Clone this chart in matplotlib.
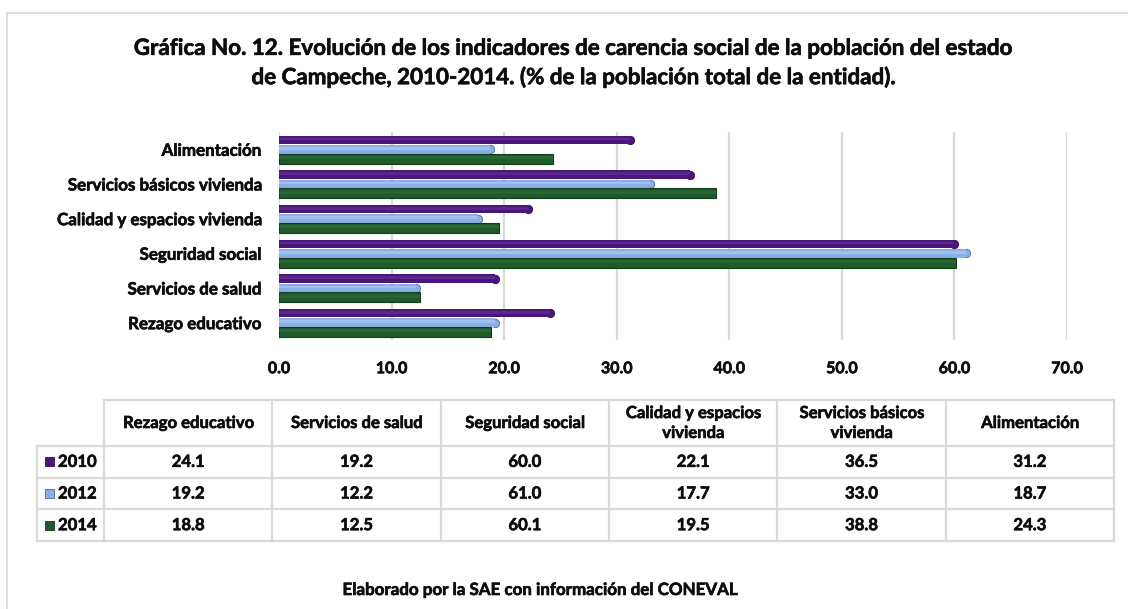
import matplotlib
matplotlib.use("Agg")
import matplotlib.pyplot as plt
import matplotlib.patheffects as pe
import numpy as np
from matplotlib.patches import Rectangle
from matplotlib.lines import Line2D

# ---------------- data ----------------
categories = ["Rezago educativo", "Servicios de salud", "Seguridad social",
              "Calidad y espacios vivienda", "Servicios básicos vivienda", "Alimentación"]
table_headers = ["Rezago educativo", "Servicios de salud", "Seguridad social",
                 "Calidad y espacios\nvivienda", "Servicios básicos\nvivienda", "Alimentación"]
years = ["2010", "2012", "2014"]
v2010 = [24.1, 19.2, 60.0, 22.1, 36.5, 31.2]
v2012 = [19.2, 12.2, 61.0, 17.7, 33.0, 18.7]
v2014 = [18.8, 12.5, 60.1, 19.5, 38.8, 24.3]
xticks = [0, 10, 20, 30, 40, 50, 60, 70]

title = ("Gráfica No. 12. Evolución de los indicadores de carencia social de la población del estado\n"
         "de Campeche, 2010-2014. (% de la población total de la entidad).")
footer = "Elaborado por la SAE con información del CONEVAL"

# ---------------- style ----------------
plt.rcParams['font.family'] = ['Lato', 'DejaVu Sans']
plt.rcParams['font.weight'] = 'bold'
W, H = 1128, 609
fig = plt.figure(figsize=(W / 100, H / 100), dpi=100)

def fx(x):
    return x / W

def fy(y):
    return 1 - y / H

txt_c = "#0d0d0d"
thick = [pe.withStroke(linewidth=0.45, foreground=txt_c)]
colors = ["#4a167a", "#8aaee6", "#1f5a2b"]
edges = ["#33095a", "#4a6aa3", "#123d1b"]
highlights = ["#6a35a0", "#b9d0f4", "#2f7440"]

# border of the chart area
fig.add_artist(Rectangle((fx(7), fy(H + 5)), fx(W + 10) - fx(7), fy(13) - fy(H + 5),
                         transform=fig.transFigure, fill=False, ec="#d9d9d9", lw=1.2))

fig.text(fx(574), fy(63), title, ha="center", va="center", fontsize=16.1,
         fontweight="bold", linespacing=1.4, color=txt_c, path_effects=thick)

# ---------------- bar chart ----------------
ax = fig.add_axes([fx(279), fy(340), fx(1067) - fx(279), fy(132) - fy(340)])
y = np.arange(len(categories))
offsets = [0.27, 0.0, -0.27]
series = [v2010, v2012, v2014]
heights = [0.24, 0.25, 0.29]
rounded = [True, True, False]
for vals, off, c, e, hl, hh, rnd in zip(series, offsets, colors, edges, highlights,
                                         heights, rounded):
    if rnd:
        ax.plot(vals, y + off, "o", ms=6.0, color=c, mec=e, mew=0.6, zorder=2)
        ax.barh(y + off, vals, height=hh, color=c, linewidth=0, zorder=3)
    else:
        ax.barh(y + off, vals, height=hh, color=c, edgecolor=e, linewidth=0.8, zorder=3)
    ax.barh(y + off + hh * 0.12, vals, height=hh * 0.3, color=hl, linewidth=0,
            alpha=0.55, zorder=4)

ax.set_xlim(0, 70)
ax.set_ylim(-0.5, len(categories) - 0.5)
ax.set_xticks(xticks)
ax.set_xticklabels([f"{t:.1f}" for t in xticks], fontsize=11.5, fontweight="bold")
ax.set_yticks(y)
ax.set_yticklabels(categories, fontsize=12.2, fontweight="bold")
ax.tick_params(axis="x", length=0, pad=16, colors=txt_c)
ax.tick_params(axis="y", length=0, pad=13, colors=txt_c)
for t in ax.get_xticklabels() + ax.get_yticklabels():
    t.set_path_effects(thick)
ax.grid(axis="x", color="#d9d9d9", lw=1.6, zorder=0)
for s in ax.spines.values():
    s.set_visible(False)

# ---------------- data table ----------------
col_left = 104
col_right = 1114
ncol = len(categories)
colw = (col_right - col_left) / ncol
row_lab_left = 37
header_top, header_bot = 400, 446
row_h = (541 - header_bot) / 3
line_c = "#d9d9d9"

def hline(yp, x0, x1):
    fig.add_artist(Line2D([fx(x0), fx(x1)], [fy(yp), fy(yp)], transform=fig.transFigure,
                          color=line_c, lw=1.6))

def vline(xp, y0, y1):
    fig.add_artist(Line2D([fx(xp), fx(xp)], [fy(y0), fy(y1)], transform=fig.transFigure,
                          color=line_c, lw=1.6))

hline(header_top, col_left, col_right)
for i in range(4):
    hline(header_bot + i * row_h, row_lab_left, col_right)
vline(row_lab_left, header_bot, header_bot + 3 * row_h)
for j in range(ncol + 1):
    vline(col_left + j * colw, header_top, header_bot + 3 * row_h)

for j, head in enumerate(table_headers):
    fig.text(fx(col_left + (j + 0.5) * colw), fy((header_top + header_bot) / 2), head,
             ha="center", va="center", fontsize=12, fontweight="bold",
             linespacing=1.3, color=txt_c, path_effects=thick)

for i, (yr, vals) in enumerate(zip(years, series)):
    yc = header_bot + (i + 0.5) * row_h
    fig.add_artist(Rectangle((fx(45), fy(yc + 4.5)), fx(54) - fx(45), fy(yc - 4.5) - fy(yc + 4.5),
                             transform=fig.transFigure, fc=colors[i], ec=edges[i], lw=0.6))
    fig.text(fx(58), fy(yc), yr, ha="left", va="center", fontsize=12,
             fontweight="bold", color=txt_c, path_effects=thick)
    for j, v in enumerate(vals):
        fig.text(fx(col_left + (j + 0.5) * colw), fy(yc), f"{v:.1f}", ha="center",
                 va="center", fontsize=12, fontweight="bold", color=txt_c,
                 path_effects=thick)

fig.text(fx(540), fy(590), footer, ha="center", va="center", fontsize=12.2,
         fontweight="bold", color=txt_c, path_effects=thick)

fig.savefig("out.png", dpi=100, facecolor="white")
